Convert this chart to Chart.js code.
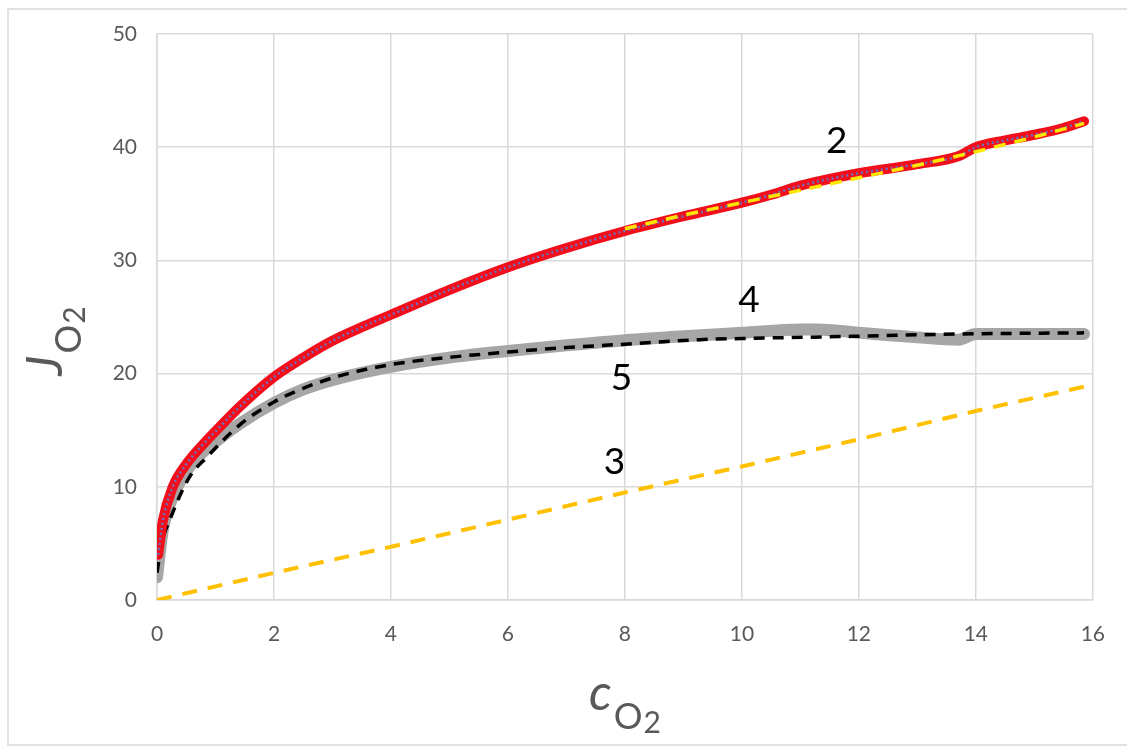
<!DOCTYPE html>
<html lang="en">
<head>
  <meta charset="utf-8">
  <title>J O2 vs c O2</title>
  <script src="https://cdn.jsdelivr.net/npm/chart.js@4.4.1/dist/chart.umd.min.js"></script>
  <style>
    html, body { margin: 0; padding: 0; background: #fff; }
    #wrap { width: 1127px; height: 746px; }
  </style>
</head>
<body>
<div id="wrap"><canvas id="fluxChart" width="1127" height="746"></canvas></div>

<script>
// axis ticks
var xTicks = [0, 2, 4, 6, 8, 10, 12, 14, 16];
var yTicks = [0, 10, 20, 30, 40, 50];

// curve 2 - measured flux (red markers)
var c2X = [0.02, 0.1, 0.27, 0.5, 0.85, 1.0, 1.42, 2.0, 2.5, 3.0, 3.5, 4.0, 5.0, 6.0, 7.0, 8.0, 9.0, 10.0, 10.5, 11.0, 11.5, 12.0, 13.0, 13.7, 14.0, 14.5, 15.0, 15.5, 15.85];
var c2Y = [4.0, 7.0, 10.0, 12.0, 14.1, 14.9, 17.1, 19.7, 21.4, 22.9, 24.1, 25.2, 27.4, 29.4, 31.1, 32.6, 33.9, 35.1, 35.8, 36.6, 37.2, 37.7, 38.5, 39.2, 40.0, 40.6, 41.1, 41.7, 42.3];

// fit over the upper part of curve 2 (yellow dashes)
var fit2X = [8, 9, 10, 11, 12, 13, 14, 15, 15.85];
var fit2Y = [32.8, 34.0, 35.1, 36.2, 37.3, 38.4, 39.6, 40.9, 42.1];

// curve 3 - linear part (gold dashes)
var c3X = [0, 2, 4, 6, 8, 10, 12, 14, 15.9];
var c3Y = [0, 2.4, 4.7, 7.1, 9.5, 11.8, 14.2, 16.7, 18.9];

// curve 4 - measured flux (grey band)
var c4X = [0, 0.1, 0.27, 0.56, 1.13, 1.42, 2, 2.5, 3.12, 4, 5.12, 6, 7, 8, 9, 10, 11, 11.3, 11.6, 12, 13, 13.7, 14, 14.5, 15, 15.85];
var c4Y = [2.0, 6.2, 9.1, 11.8, 14.5, 15.6, 17.4, 18.6, 19.6, 20.6, 21.5, 22.0, 22.5, 22.95, 23.3, 23.6, 23.9, 23.9, 23.8, 23.6, 23.2, 23.0, 23.5, 23.5, 23.5, 23.5];

// curve 5 - model (black dashes)
var c5X = [0, 0.08, 0.22, 0.56, 0.85, 1.42, 2, 2.5, 3.12, 4, 5.12, 6, 7, 8, 9.27, 10, 12, 13.7, 15.85];
var c5Y = [2.4, 5.0, 7.1, 10.9, 12.6, 15.5, 17.5, 18.7, 19.8, 20.8, 21.5, 21.9, 22.3, 22.6, 23.0, 23.1, 23.3, 23.5, 23.6];

// curve numbers and where they sit
var curveNames = ['2', '4', '5', '3'];
var curveNameX = [11.62, 10.12, 7.94, 7.82];
var curveNameY = [40.5, 26.5, 19.6, 12.2];

function pts(xs, ys) {
  return xs.map(function (x, i) { return { x: x, y: ys[i] }; });
}

var tickColor = '#595959';
var gridColor = '#D9D9D9';

// frame round the whole figure, curve numbers, axis titles with subscripts
var decorPlugin = {
  id: 'decor',
  beforeDraw: function (chart) {
    var ctx = chart.ctx;
    ctx.save();
    ctx.fillStyle = '#fff';
    ctx.fillRect(0, 0, chart.width, chart.height);
    ctx.strokeStyle = gridColor;
    ctx.lineWidth = 1.5;
    ctx.strokeRect(8, 9, 1200, 736);
    ctx.restore();
  },
  afterDraw: function (chart) {
    var ctx = chart.ctx;
    var xs = chart.scales.x, ys = chart.scales.y;
    ctx.save();
    ctx.fillStyle = '#000';
    ctx.font = '37px Lato, "Open Sans", sans-serif';
    ctx.textAlign = 'center';
    ctx.textBaseline = 'middle';
    curveNames.forEach(function (n, i) {
      ctx.fillText(n, xs.getPixelForValue(curveNameX[i]), ys.getPixelForValue(curveNameY[i]));
    });

    ctx.fillStyle = tickColor;
    drawTitle(ctx, 'c', 625, 710, 0);
    drawTitle(ctx, 'J', 341, 62, -Math.PI / 2);
    ctx.restore();
  }
};

// main letter in italics, then "O" as subscript and "2" a little lower again
function drawTitle(ctx, main, cx, baseline, angle) {
  var mainFont = 'italic 50px Lato, "Open Sans", sans-serif';
  var oFont = '36px Lato, "Open Sans", sans-serif';
  var twoFont = '30px Lato, "Open Sans", sans-serif';
  ctx.save();
  ctx.font = mainFont;
  var wMain = ctx.measureText(main).width;
  ctx.font = oFont;
  var wO = ctx.measureText('O').width;
  ctx.font = twoFont;
  var wTwo = ctx.measureText('2').width;
  var total = wMain + 2 + wO + 1 + wTwo;
  if (angle) {
    ctx.translate(baseline, cx);
    ctx.rotate(angle);
  } else {
    ctx.translate(cx, baseline);
  }
  ctx.textAlign = 'left';
  ctx.textBaseline = 'alphabetic';
  var x0 = -total / 2;
  ctx.font = mainFont;
  ctx.fillText(main, x0, 0);
  ctx.font = oFont;
  ctx.fillText('O', x0 + wMain + 2, 19);
  ctx.font = twoFont;
  ctx.fillText('2', x0 + wMain + 2 + wO + 1, 23);
  ctx.restore();
}

var ctx = document.getElementById('fluxChart').getContext('2d');

var chart = new Chart(ctx, {
  type: 'scatter',
  data: {
    datasets: [
      {
        label: 'fit 2',
        data: pts(fit2X, fit2Y),
        showLine: true,
        borderColor: '#FFE600',
        borderWidth: 3.5,
        borderDash: [12, 9],
        pointRadius: 0,
        order: 1
      },
      {
        label: '2 markers',
        data: pts(c2X, c2Y),
        showLine: true,
        borderColor: '#6A70C2',
        borderWidth: 2.5,
        borderDash: [2, 3],
        cubicInterpolationMode: 'monotone',
        pointRadius: 0,
        order: 2
      },
      {
        label: '2',
        data: pts(c2X, c2Y),
        showLine: true,
        borderColor: '#F20F1C',
        borderWidth: 10,
        borderCapStyle: 'round',
        borderJoinStyle: 'round',
        cubicInterpolationMode: 'monotone',
        pointRadius: 0,
        order: 3
      },
      {
        label: '5',
        data: pts(c5X, c5Y),
        showLine: true,
        borderColor: '#000',
        borderWidth: 3.5,
        borderDash: [11, 8],
        cubicInterpolationMode: 'monotone',
        pointRadius: 0,
        order: 4
      },
      {
        label: '4',
        data: pts(c4X, c4Y),
        showLine: true,
        borderColor: '#A6A6A6',
        borderWidth: 12,
        borderCapStyle: 'round',
        borderJoinStyle: 'round',
        cubicInterpolationMode: 'monotone',
        pointRadius: 0,
        order: 5
      },
      {
        label: '3',
        data: pts(c3X, c3Y),
        showLine: true,
        borderColor: '#FFC000',
        borderWidth: 4,
        borderDash: [15, 11],
        pointRadius: 0,
        order: 6
      }
    ]
  },
  options: {
    responsive: false,
    animation: false,
    devicePixelRatio: 1,
    layout: { padding: { left: 0, top: 34, right: 32, bottom: 0 } },
    plugins: {
      legend: { display: false },
      tooltip: { enabled: false }
    },
    scales: {
      x: {
        type: 'linear',
        min: 0,
        max: 16,
        afterFit: function (s) { s.height = 146; },
        afterBuildTicks: function (s) { s.ticks = xTicks.map(function (v) { return { value: v }; }); },
        grid: { color: gridColor, lineWidth: 1.5, drawTicks: false },
        border: { color: gridColor, width: 1.5 },
        ticks: { color: tickColor, padding: 22, font: { family: 'Lato, "Open Sans", sans-serif', size: 21 } }
      },
      y: {
        type: 'linear',
        min: 0,
        max: 50,
        afterFit: function (s) { s.width = 157; },
        afterBuildTicks: function (s) { s.ticks = yTicks.map(function (v) { return { value: v }; }); },
        grid: { color: gridColor, lineWidth: 1.5, drawTicks: false },
        border: { color: gridColor, width: 1.5 },
        ticks: { color: tickColor, padding: 20, font: { family: 'Lato, "Open Sans", sans-serif', size: 21 } }
      }
    }
  },
  plugins: [decorPlugin]
});
</script>
</body>
</html>
